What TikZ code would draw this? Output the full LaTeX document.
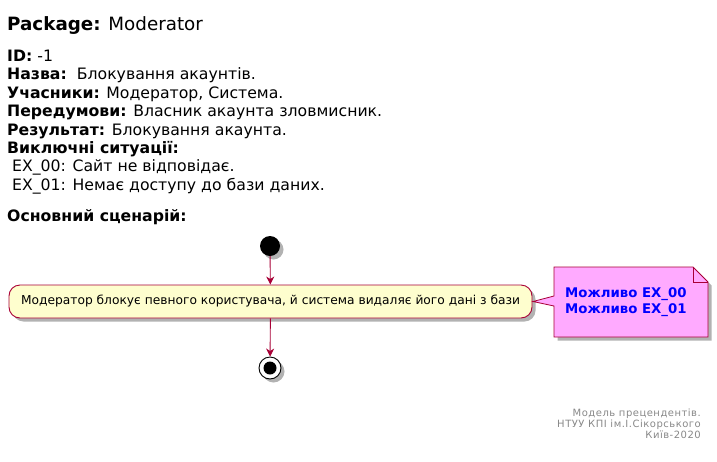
\documentclass[tikz,border=0pt]{standalone}
\usepackage{fontspec}
\setmainfont{DejaVu Sans}
\newfontfamily\footfont[LetterSpace=5]{DejaVu Sans}
\usetikzlibrary{arrows.meta,shadows}
\definecolor{umlred}{HTML}{A80036}
\definecolor{actfill}{HTML}{FEFECE}
\definecolor{notefill}{HTML}{FFAAFF}
\definecolor{foot}{HTML}{888888}
\tikzset{
  hdr/.style={anchor=base west,inner sep=0pt,font=\fontsize{15.7}{18}\selectfont},
  flow/.style={draw=umlred,line width=0.9pt,-{Stealth[length=8pt,width=8pt,inset=2.5pt]}},
  sh/.style={drop shadow={shadow xshift=3.5pt,shadow yshift=-3.5pt,fill=black,opacity=0.3}},
}
\begin{document}
\begin{tikzpicture}[x=1pt,y=-1pt]
\useasboundingbox (0,0) rectangle (717,461);
\node[anchor=base west,inner sep=0pt,font=\fontsize{18.3}{21}\selectfont] (title) at (7,30) {\textbf{Package:} Moderator};
\node[hdr] (l1) at (7,61) {\textbf{ID:} -1};
\node[hdr] (l2) at (7,79.5) {\textbf{Назва:}\ \ Блокування акаунтів.};
\node[hdr] (l3) at (7,98) {\textbf{Учасники:} Модератор, Система.};
\node[hdr] (l4) at (7,116.5) {\textbf{Передумови:} Власник акаунта зловмисник.};
\node[hdr] (l5) at (7,135) {\textbf{Результат:} Блокування акаунта.};
\node[hdr] (l6) at (7,153) {\textbf{Виключні ситуації:}};
\node[hdr] (l7) at (7,171.5) {\ EX\_00: Сайт не відповідає.};
\node[hdr] (l8) at (7,190) {\ EX\_01: Немає доступу до бази даних.};
\node[hdr] (l9) at (7,221) {\textbf{Основний сценарій:}};
% start
\fill[black,opacity=0.3] (273.5,249.5) circle (10);
\node[circle,fill=black,minimum size=20pt,inner sep=0pt] (start) at (270,246) {};
% activity
\node[draw=umlred,fill=actfill,line width=0.9pt,rounded corners=11pt,minimum width=523pt,minimum height=33pt,sh,font=\fontsize{12.25}{14}\selectfont] (act) at (270.5,301.5) {Модератор блокує певного користувача, й система видаляє його дані з бази};
% end
\fill[black,opacity=0.3] (273.5,371.5) circle (11);
\node[circle,draw=black,fill=white,line width=0.9pt,minimum size=22pt,inner sep=0pt] (stop) at (270,368) {};
\node[circle,fill=black,minimum size=13pt,inner sep=0pt] (stopin) at (270,368) {};
\draw[flow] (start) -- (act);
\draw[flow] (act) -- (stop);
% note
\fill[black,opacity=0.3] (557.5,270.5) -- (696.5,270.5) -- (711.5,285.5) -- (711.5,340.5) -- (557.5,340.5) -- cycle;
\draw[umlred,fill=notefill,line width=0.8pt] (554,267) -- (693,267) -- (708,282) -- (708,337) -- (554,337) -- (554,306) -- (533,301.5) -- (554,296) -- cycle;
\draw[umlred,line width=0.8pt] (693,267) -- (693,282) -- (708,282);
\node[align=left,text=blue,font=\bfseries\fontsize{13.3}{15.5}\selectfont,anchor=west,inner sep=0pt] (note) at (565,302) {Можливо EX\_00\\Можливо EX\_01};
% footer
\node[align=right,anchor=north east,inner sep=0pt,text=foot,font=\footfont\fontsize{10}{11}\selectfont] (footer) at (701,409) {Модель прецендентів.\\НТУУ КПІ ім.І.Сікорського\\Київ-2020};
\end{tikzpicture}
\end{document}
